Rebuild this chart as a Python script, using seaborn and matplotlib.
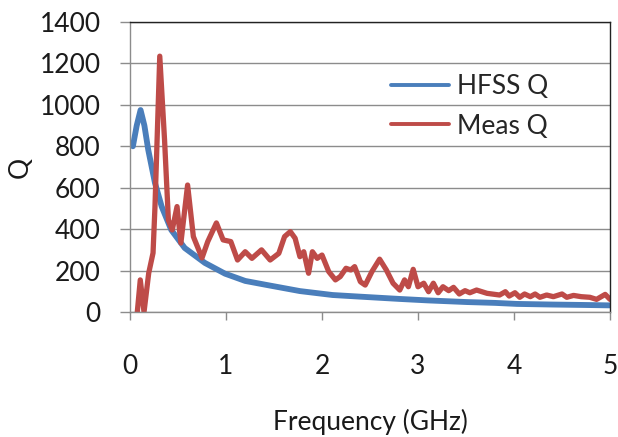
import numpy as np
import pandas as pd
import matplotlib
matplotlib.use("Agg")
import matplotlib.pyplot as plt
import seaborn as sns

# Podaci ocitani sa slike
hfss_f = [0.03, 0.07, 0.11, 0.15, 0.19, 0.26, 0.33, 0.43, 0.57, 0.78, 0.99, 1.2,
          1.43, 1.77, 2.11, 2.4, 2.81, 3.1, 3.51, 3.8, 4.03, 4.4, 4.72, 5.0]
hfss_q = [800, 900, 975, 900, 783, 623, 509, 396, 309, 237, 185, 150,
          130, 101, 82, 74, 63, 56, 48, 44, 39, 36, 34, 32]

meas_f = [0.076, 0.107, 0.146, 0.195, 0.24, 0.26, 0.31, 0.36, 0.40, 0.44, 0.49, 0.53,
          0.60, 0.66, 0.75, 0.81, 0.90, 0.97, 1.05, 1.12, 1.20, 1.27, 1.37, 1.46,
          1.55, 1.61, 1.67, 1.72, 1.77, 1.81, 1.86, 1.90, 1.95, 2.00, 2.07, 2.14,
          2.19, 2.25, 2.30, 2.34, 2.40, 2.45, 2.52, 2.60, 2.67, 2.74, 2.81, 2.86,
          2.90, 2.95, 3.00, 3.06, 3.11, 3.16, 3.21, 3.26, 3.32, 3.37, 3.43, 3.49,
          3.54, 3.61, 3.72, 3.85, 3.91, 3.95, 4.01, 4.06, 4.11, 4.17, 4.22, 4.27,
          4.34, 4.41, 4.50, 4.55, 4.62, 4.70, 4.79, 4.86, 4.95, 5.00]
meas_q = [0, 155, 0, 188, 285, 507, 1235, 830, 444, 396, 509, 333,
          613, 364, 261, 340, 430, 348, 340, 251, 291, 259, 300, 251,
          283, 364, 388, 356, 267, 291, 187, 291, 259, 275, 195, 155,
          171, 211, 203, 219, 146, 130, 195, 255, 203, 139, 106, 155,
          122, 206, 122, 139, 98, 139, 93, 122, 103, 119, 87, 103,
          93, 106, 90, 82, 98, 77, 93, 71, 87, 74, 87, 71,
          82, 74, 87, 71, 80, 74, 71, 61, 85, 61]

x_ticks = [0, 1, 2, 3, 4, 5]
y_ticks = [0, 200, 400, 600, 800, 1000, 1200, 1400]

sns.set_style("white")
plt.rcParams['font.family'] = ['Lato', 'DejaVu Sans']

fig = plt.figure(figsize=(6.18, 4.37), dpi=100)
ax = fig.add_axes([130 / 618, 1 - 312 / 437, 480 / 618, 290 / 437])

df_hfss = pd.DataFrame({"f": hfss_f, "Q": hfss_q})
df_meas = pd.DataFrame({"f": meas_f, "Q": meas_q})

sns.lineplot(data=df_hfss, x="f", y="Q", ax=ax, color="#4A7EBB", linewidth=4.2,
             label="HFSS Q", estimator=None)
sns.lineplot(data=df_meas, x="f", y="Q", ax=ax, color="#BE4B48", linewidth=3.8,
             label="Meas Q", estimator=None)

ax.set_xlim(0, 5)
ax.set_ylim(0, 1400)
ax.set_xticks(x_ticks)
ax.set_yticks(y_ticks)
ax.yaxis.grid(True, color="#8c8c8c", linewidth=1)
ax.xaxis.grid(False)

for side in ["left", "bottom"]:
    ax.spines[side].set_color("#8c8c8c")
    ax.spines[side].set_linewidth(1)
for side in ["top", "right"]:
    ax.spines[side].set_color("#222222")
    ax.spines[side].set_linewidth(1)

ax.tick_params(axis="x", direction="out", length=6, width=1, color="#8c8c8c",
               pad=24, labelsize=19, labelcolor="#1a1a1a", bottom=True)
ax.tick_params(axis="y", direction="out", length=7, width=1, color="#8c8c8c",
               pad=14, labelsize=19, labelcolor="#1a1a1a", left=True)

ax.set_xlabel("Frequency (GHz)", fontsize=19, color="#1a1a1a", labelpad=22)
ax.set_ylabel("Q", fontsize=19, color="#1a1a1a", labelpad=5)

leg = ax.legend(loc="upper left", bbox_to_anchor=(391 / 618, 1 - 74 / 437),
                bbox_transform=fig.transFigure, frameon=False, fontsize=19,
                handlelength=2.2, handletextpad=0.3, labelspacing=0.55,
                borderaxespad=0, borderpad=0)
for line in leg.get_lines():
    line.set_linewidth(2.8)

fig.savefig("out.png", dpi=100)
